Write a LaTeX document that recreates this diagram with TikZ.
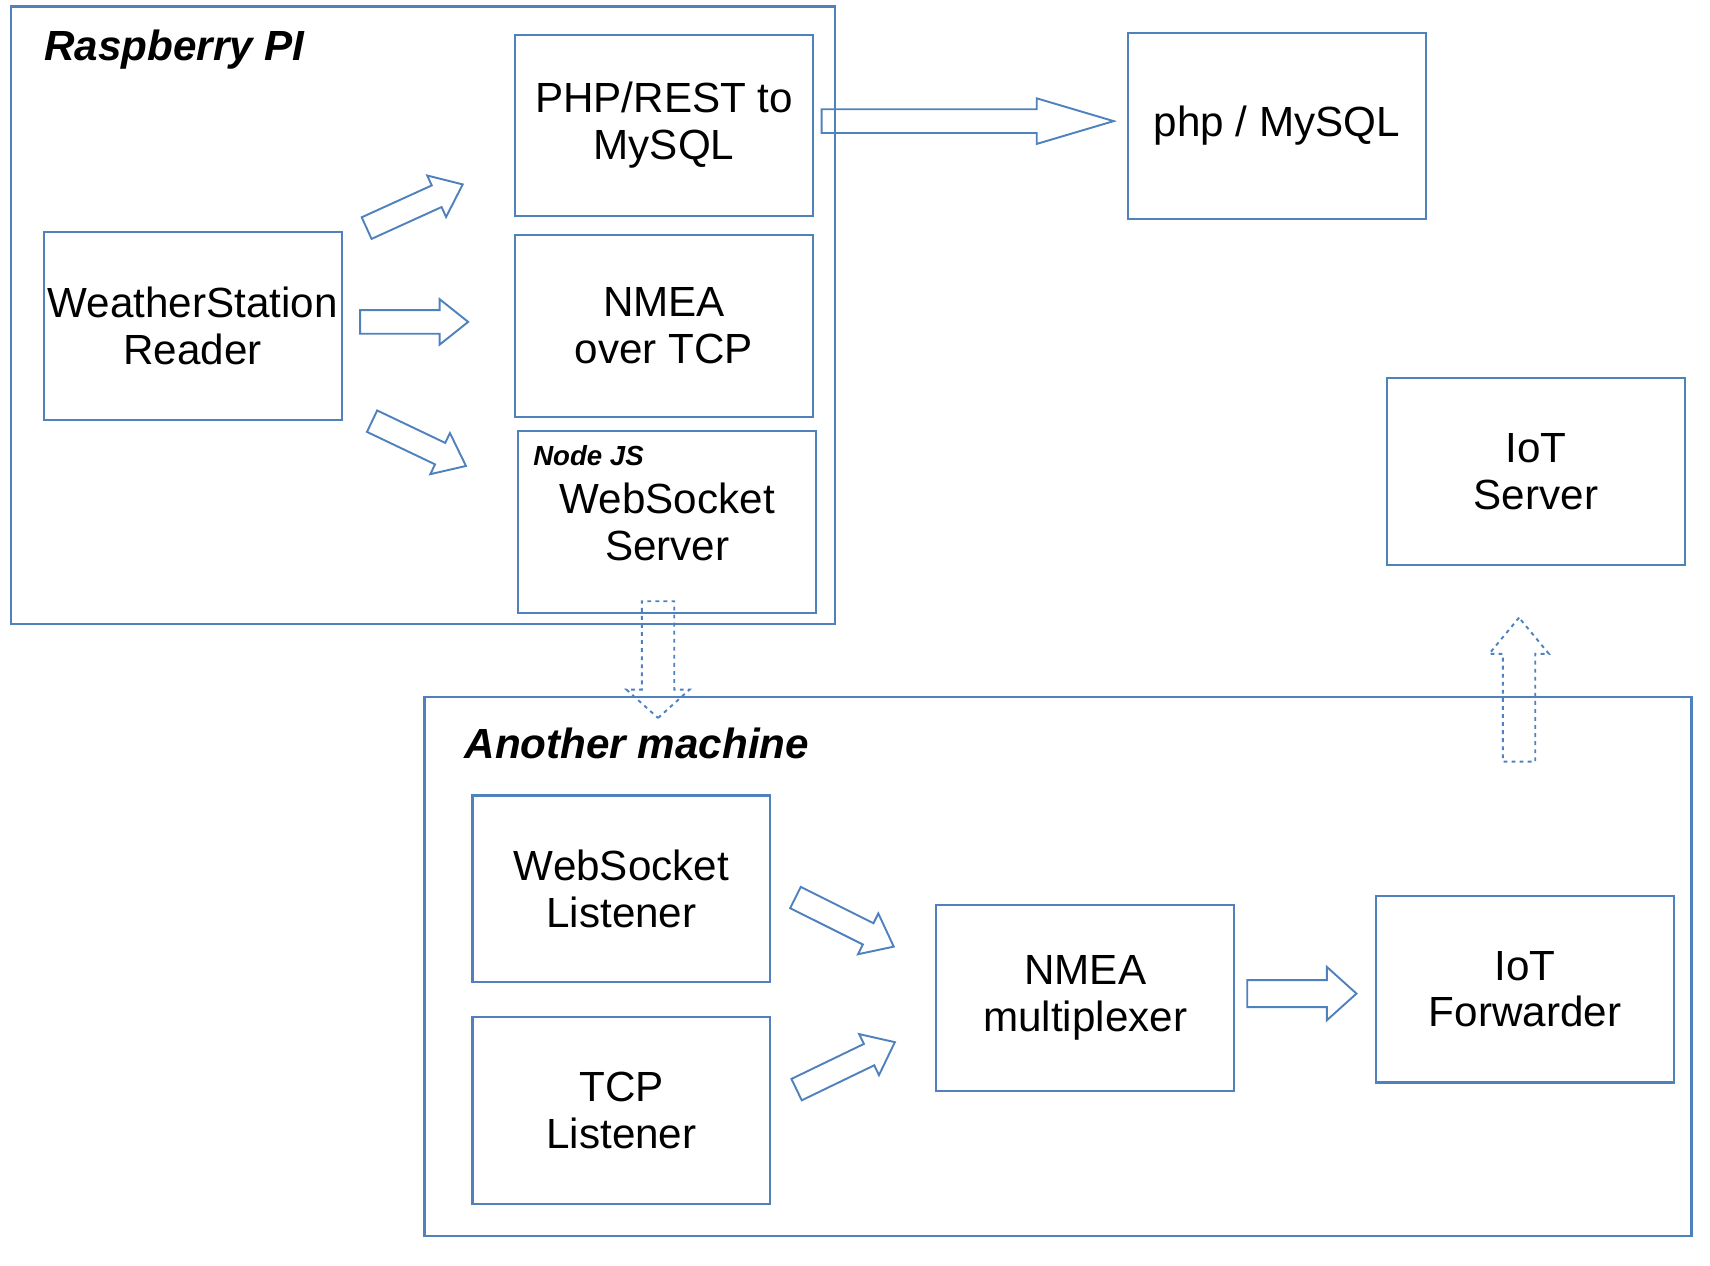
\documentclass[tikz,border=0pt]{standalone}
\usepackage{fontspec}
\setmainfont{Liberation Sans}
\usetikzlibrary{shapes.arrows, calc}
\definecolor{boxblue}{RGB}{79,129,189}
\tikzset{
  block/.style={
    rectangle,
    draw=boxblue,
    line width=0.55pt,
    minimum width=2.73cm,
    minimum height=1.7cm,
    align=center,
    inner sep=0pt,
    font=\fontsize{11}{12.2}\selectfont
  },
  machine/.style={rectangle, draw=boxblue, line width=0.55pt, inner sep=0pt},
  title/.style={anchor=base west, inner sep=0pt, font=\fontsize{11}{13}\selectfont\bfseries\itshape},
  fatarrow/.style={
    single arrow, draw=boxblue, line width=0.5pt,
    inner xsep=0pt, inner ysep=1mm, outer sep=0pt,
    single arrow head extend=1mm,
    single arrow tip angle=77, single arrow head indent=0pt
  },
  dotarrow/.style={dash pattern=on 1pt off 1.1pt},
  fat/.style={to path={
    let \p1=(\tikztostart), \p2=(\tikztotarget),
        \n1={veclen(\x2-\x1,\y2-\y1)}, \n2={atan2(\y2-\y1,\x2-\x1)} in
    node[fatarrow, #1, minimum height=\n1, rotate=\n2, anchor=tail] at (\p1) {}
  }},
  fat/.default={}
}

\begin{document}
\begin{tikzpicture}
    \useasboundingbox (0,-0.05) rectangle (15.67,11.55);
    % Raspberry PI
    \node[machine, minimum width=7.55cm, minimum height=5.66cm] (rpi) at (3.875, 8.66) {};
    \node[title] (rpit) at (0.40, 11.00) {Raspberry PI};
    \node[block, minimum height=1.72cm] (wsr) at (1.765, 8.56) {WeatherStation\\Reader};
    \node[block, minimum height=1.66cm] (rest) at (6.085, 10.40) {PHP/REST to\\MySQL};
    \node[block, minimum height=1.67cm] (tcp) at (6.085, 8.565) {NMEA\\over TCP};
    \node[block, minimum height=1.67cm] (wss) at (6.115, 6.765) {WebSocket\\Server};
    \node[anchor=base west, inner sep=0pt, font=\fontsize{7.2}{8}\selectfont\bfseries\itshape] (njs) at (4.88, 7.28) {Node JS};
    % servers
    \node[block, minimum height=1.71cm] (mysql) at (11.70, 10.395) {php / MySQL};
    \node[block, minimum height=1.72cm] (iots) at (14.075, 7.23) {IoT\\Server};
    % Another machine
    \node[machine, minimum width=11.61cm, minimum height=4.94cm] (other) at (9.695, 2.69) {};
    \node[title] (othert) at (4.25, 4.60) {Another machine};
    \node[block, minimum height=1.71cm] (wsl) at (5.695, 3.405) {WebSocket\\Listener};
    \node[block, minimum height=1.71cm] (tcpl) at (5.695, 1.375) {TCP\\Listener};
    \node[block, minimum height=1.71cm] (mux) at (9.945, 2.405) {NMEA\\multiplexer};
    \node[block, minimum height=1.71cm] (iotf) at (13.975, 2.485) {IoT\\Forwarder};
    % block arrows
    \path ([shift={(0.22,0.03)}]wsr.north east) to[fat] ([shift={(-0.47,0.30)}]rest.south west);
    \path ([shift={(0.16,0.04)}]wsr.east) to[fat] ([shift={(-0.42,0.035)}]tcp.west);
    \path ([shift={(0.27,0)}]wsr.south east) to[fat] ([shift={(-0.47,0.515)}]wss.west);
    \path ([shift={(0.07,0.04)}]rest.east) to[fat={single arrow tip angle=33}] ([shift={(-0.12,0.045)}]mysql.west);
    \path ([shift={(-0.085,0.12)}]wss.south) to[fat={dotarrow, inner ysep=1.4mm, single arrow head extend=1.4mm, single arrow tip angle=96}] ([shift={(-0.085,-0.95)}]wss.south);
    \path ([shift={(-0.155,-1.79)}]iots.south) to[fat={dotarrow, inner ysep=1.4mm, single arrow head extend=1.25mm, single arrow tip angle=79}] ([shift={(-0.155,-0.47)}]iots.south);
    \path ([shift={(0.22,-0.08)}]wsl.east) to[fat] ([shift={(-0.38,0.47)}]mux.west);
    \path ([shift={(0.23,0.19)}]tcpl.east) to[fat] ([shift={(-0.37,-0.405)}]mux.west);
    \path ([shift={(0.11,0.04)}]mux.east) to[fat={inner ysep=1.15mm, single arrow head extend=1.2mm, single arrow tip angle=84}] ([shift={(-0.17,-0.04)}]iotf.west);
\end{tikzpicture}
\end{document}
